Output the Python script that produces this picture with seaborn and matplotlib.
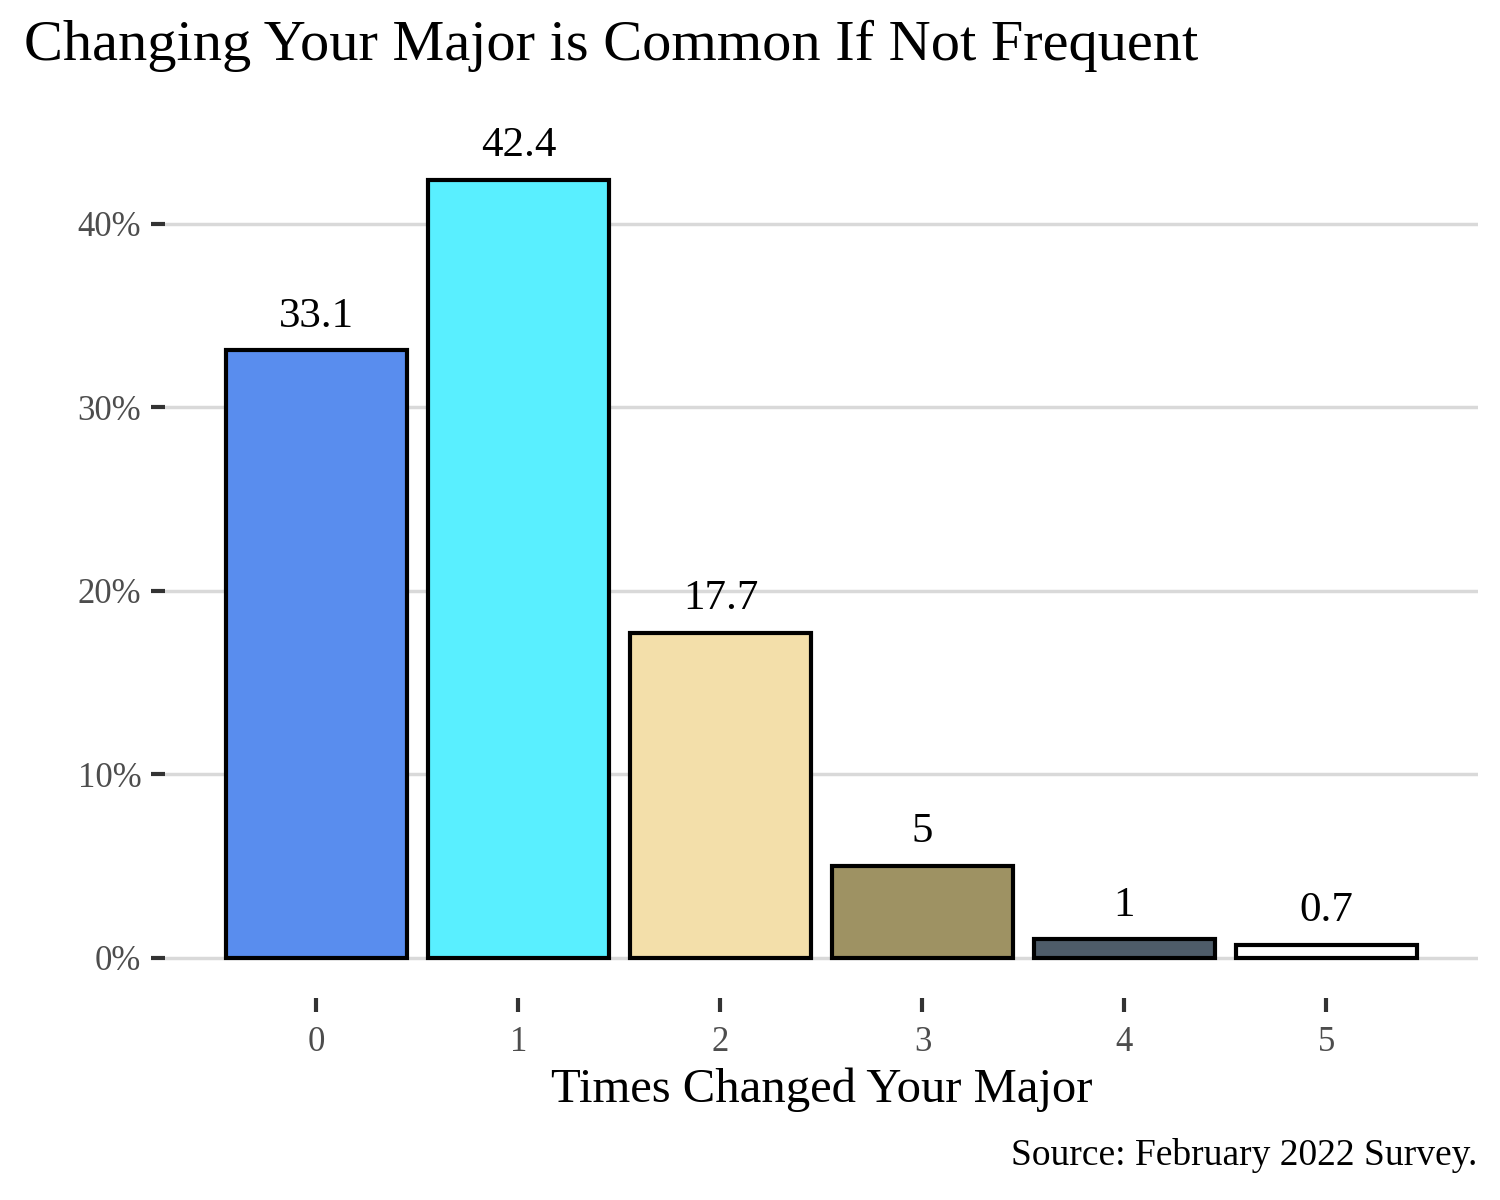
import matplotlib
matplotlib.use("Agg")
import matplotlib.pyplot as plt
import seaborn as sns
import pandas as pd
from matplotlib.ticker import PercentFormatter

# data
times_changed = ["0", "1", "2", "3", "4", "5"]
pct = [33.1, 42.4, 17.7, 5, 1, 0.7]
bar_labels = ["33.1", "42.4", "17.7", "5", "1", "0.7"]
bar_colors = ["#598DEE", "#59EFFF", "#F3DFAA", "#9E9263", "#4E5C69", "#FFFFFF"]

df = pd.DataFrame({"times": times_changed, "pct": pct})

sns.set_theme(style="white")
plt.rcParams["font.family"] = ["Liberation Serif", "DejaVu Serif"]

fig = plt.figure(figsize=(15, 12), dpi=100)
ax = fig.add_axes([0.11, 0.1683, 0.8753, 0.7142])

sns.barplot(data=df, x="times", y="pct", hue="times", palette=bar_colors,
            order=times_changed, hue_order=times_changed, legend=False,
            width=0.9, edgecolor="black", linewidth=3, saturation=1, ax=ax,
            zorder=3)

# value labels above the bars
for i, (v, lab) in enumerate(zip(pct, bar_labels)):
    ax.text(i, v + 0.8, lab, ha="center", va="bottom", fontsize=31,
            color="black", clip_on=False)

ax.set_xlim(-0.75, 5.75)
ax.set_ylim(-2.2, 44.5)
ax.set_yticks([0, 10, 20, 30, 40])
ax.yaxis.set_major_formatter(PercentFormatter(decimals=0))
ax.grid(axis="y", color="#D9D9D9", linewidth=2.5, zorder=0)
ax.grid(axis="x", visible=False)
for s in ax.spines.values():
    s.set_visible(False)

ax.tick_params(axis="both", bottom=True, left=True, direction="out",
               length=10, width=3, color="#333333",
               labelcolor="#4D4D4D", labelsize=25, pad=7)
ax.tick_params(axis="x", pad=10)

ax.set_xlabel("Times Changed Your Major", fontsize=35, color="black", labelpad=6)
ax.set_ylabel("")

fig.text(0.016, 0.962, "Changing Your Major is Common If Not Frequent",
         fontsize=42, color="black", ha="left", va="center")
fig.text(0.985, 0.037, "Source: February 2022 Survey.", fontsize=27,
         color="black", ha="right", va="center")

fig.savefig("out.png", dpi=100)
